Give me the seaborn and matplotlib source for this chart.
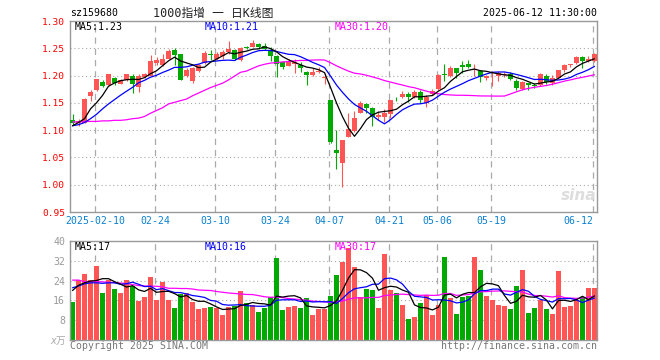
# 159680 daily K-line chart (sina style)
import numpy as np
import pandas as pd
import matplotlib
matplotlib.use("Agg")
import matplotlib.pyplot as plt
import seaborn as sns

# trading days Jan 27 .. Jun 12 2025, exchange holidays removed
holidays = ["2025-01-28", "2025-01-29", "2025-01-30", "2025-01-31",
            "2025-02-03", "2025-02-04", "2025-04-04", "2025-05-01",
            "2025-05-02", "2025-05-05", "2025-06-02"]
dates = pd.bdate_range("2025-01-27", "2025-06-12")
dates = dates[~dates.isin(pd.to_datetime(holidays))]

tick_dates = ["2025-02-10", "2025-02-24", "2025-03-10", "2025-03-24", "2025-04-07",
              "2025-04-21", "2025-05-06", "2025-05-19", "2025-06-12"]
tick_labels = ["2025-02-10", "02-24", "03-10", "03-24", "04-07",
               "04-21", "05-06", "05-19", "06-12"]

open_ = [1.119, 1.113, 1.114, 1.162, 1.173, 1.188, 1.182, 1.196, 1.185, 1.191,
         1.200, 1.179, 1.197, 1.200, 1.223, 1.219, 1.231, 1.246, 1.239, 1.200,
         1.190, 1.208, 1.223, 1.239, 1.231, 1.235, 1.243, 1.246, 1.228, 1.2525,
         1.253, 1.258, 1.254, 1.247, 1.236, 1.224, 1.218, 1.221, 1.219, 1.207,
         1.201, 1.207, 1.196, 1.155, 1.063, 1.040, 1.088, 1.099, 1.132, 1.148,
         1.140, 1.1245, 1.124, 1.130, 1.1555, 1.160, 1.167, 1.161, 1.170, 1.149,
         1.166, 1.1746, 1.203, 1.199, 1.213, 1.219, 1.221, 1.211, 1.208, 1.195,
         1.202, 1.199, 1.201, 1.203, 1.190, 1.1755, 1.186, 1.183, 1.183, 1.200,
         1.186, 1.196, 1.210, 1.219, 1.223, 1.234, 1.227, 1.227]
close = [1.114, 1.117, 1.157, 1.170, 1.193, 1.181, 1.202, 1.186, 1.191, 1.202,
         1.185, 1.200, 1.203, 1.227, 1.229, 1.231, 1.245, 1.237, 1.192, 1.211,
         1.214, 1.219, 1.241, 1.237, 1.240, 1.243, 1.249, 1.230, 1.251, 1.251,
         1.260, 1.253, 1.248, 1.235, 1.222, 1.216, 1.224, 1.224, 1.213, 1.201,
         1.207, 1.209, 1.197, 1.078, 1.058, 1.0815, 1.103, 1.123, 1.149, 1.140,
         1.1245, 1.1275, 1.1305, 1.155, 1.1545, 1.166, 1.160, 1.170, 1.155, 1.160,
         1.172, 1.201, 1.201, 1.213, 1.204, 1.216, 1.215, 1.212, 1.197, 1.199,
         1.203, 1.205, 1.202, 1.193, 1.178, 1.188, 1.183, 1.180, 1.202, 1.188,
         1.195, 1.210, 1.219, 1.222, 1.234, 1.227, 1.231, 1.240]
high = [1.130, 1.120, 1.159, 1.173, 1.194, 1.192, 1.203, 1.198, 1.194, 1.203,
        1.202, 1.203, 1.205, 1.237, 1.234, 1.239, 1.248, 1.251, 1.240, 1.213,
        1.215, 1.221, 1.245, 1.246, 1.243, 1.246, 1.263, 1.249, 1.252, 1.254,
        1.265, 1.260, 1.259, 1.252, 1.238, 1.226, 1.230, 1.231, 1.225, 1.209,
        1.213, 1.216, 1.204, 1.156, 1.101, 1.082, 1.132, 1.135, 1.153, 1.149,
        1.143, 1.135, 1.138, 1.156, 1.161, 1.172, 1.170, 1.173, 1.173, 1.164,
        1.175, 1.203, 1.221, 1.217, 1.213, 1.227, 1.228, 1.221, 1.210, 1.201,
        1.208, 1.208, 1.206, 1.206, 1.194, 1.190, 1.186, 1.186, 1.204, 1.203,
        1.201, 1.211, 1.222, 1.222, 1.235, 1.235, 1.235, 1.241]
low = [1.110, 1.108, 1.113, 1.153, 1.172, 1.179, 1.180, 1.183, 1.184, 1.190,
       1.168, 1.170, 1.196, 1.199, 1.219, 1.217, 1.230, 1.219, 1.191, 1.198,
       1.187, 1.206, 1.222, 1.228, 1.229, 1.231, 1.240, 1.228, 1.227, 1.248,
       1.252, 1.249, 1.247, 1.226, 1.198, 1.212, 1.217, 1.204, 1.207, 1.183,
       1.199, 1.204, 1.185, 1.076, 1.028, 0.996, 1.087, 1.097, 1.131, 1.131,
       1.108, 1.118, 1.115, 1.123, 1.153, 1.158, 1.152, 1.158, 1.150, 1.143,
       1.164, 1.173, 1.190, 1.197, 1.195, 1.204, 1.213, 1.199, 1.188, 1.192,
       1.180, 1.190, 1.197, 1.191, 1.174, 1.173, 1.174, 1.177, 1.180, 1.185,
       1.183, 1.194, 1.207, 1.216, 1.222, 1.214, 1.225, 1.225]
volume = [15.3, 24.2, 26.6, 24.2, 29.9, 19.0, 24.2, 20.6, 19.0, 24.2,
          21.8, 15.7, 17.3, 25.4, 16.1, 23.4, 16.1, 12.9, 18.5, 19.0,
          15.3, 12.5, 12.9, 13.3, 12.9, 10.1, 13.3, 13.7, 19.8, 14.9,
          14.1, 11.3, 12.9, 17.3, 33.1, 12.1, 13.3, 13.7, 12.9, 16.9,
          10.1, 12.5, 12.5, 17.7, 26.2, 31.5, 37.2, 29.5, 17.3, 20.6,
          20.2, 12.9, 34.7, 20.2, 19.0, 14.1, 8.4, 9.2, 14.9, 18.1,
          10.1, 14.1, 33.5, 16.9, 10.5, 17.3, 17.7, 33.5, 28.3, 17.7,
          16.1, 14.1, 13.7, 12.5, 21.8, 28.3, 10.9, 12.9, 16.1, 12.5,
          10.5, 27.9, 13.3, 13.7, 16.1, 17.3, 21.0, 21.0]

# moving-average values before the window has enough history
ma5_head = [1.108, 1.114, 1.121, 1.139]
ma10_head = [1.108, 1.110, 1.114, 1.121, 1.129, 1.139, 1.148, 1.156, 1.164]
ma30_head = [1.115, 1.115, 1.116, 1.116, 1.116, 1.117, 1.117, 1.118, 1.118, 1.119,
             1.121, 1.122, 1.125, 1.131, 1.136, 1.141, 1.148, 1.151, 1.154, 1.157,
             1.163, 1.168, 1.173, 1.178, 1.182, 1.186, 1.192, 1.199, 1.206]
vma5_head = [20.0, 22.1, 23.1, 23.8]
vma10_head = [21.1, 21.8, 22.7, 23.1, 23.1, 22.9, 23.1, 23.1, 22.5]
vma30_head = [24.2, 24.2, 23.6, 23.6, 23.6, 23.5, 23.3, 23.2, 23.0, 22.8,
              22.4, 22.0, 21.8, 21.8, 21.7, 21.5, 20.9, 20.9, 20.8, 20.8,
              20.6, 20.2, 20.1, 20.0, 19.6, 19.3, 19.0, 18.8, 18.6]

RED = "#FF5555"
GREEN = "#00AA00"
GRID = "#AAAAAA"
MONO = "DejaVu Sans Mono"
CJK = ["DejaVu Sans Mono", "Noto Sans CJK SC"]


def moving_average(values, n, head):
    ma = pd.Series(values).rolling(n).mean().to_numpy()
    ma[:n - 1] = head
    return ma


sns.set_theme(style="white")
plt.rcParams["font.family"] = MONO

o = np.array(open_)
c = np.array(close)
h = np.array(high)
l = np.array(low)
v = np.array(volume)
idx = np.arange(len(dates))
up = c >= o
colors = np.where(up, RED, GREEN)

ticks = np.array([dates.get_loc(pd.Timestamp(d)) for d in tick_dates]) - 0.25

fig = plt.figure(figsize=(6.6, 3.6), dpi=100)
W, H = 660, 360


def box(left, top, right, bottom):
    return [left / W, 1 - bottom / H, (right - left) / W, (bottom - top) / H]


def fpos(x, y):
    return x / W, 1 - y / H


ax = fig.add_axes(box(70, 21, 597, 212))
axv = fig.add_axes(box(70, 241, 597, 340))

# ---- price panel
for y in np.arange(1.00, 1.26, 0.05):
    ax.axhline(y, color=GRID, lw=0.8, ls=(0, (1, 2.5)), zorder=0)
for t in ticks:
    ax.axvline(t, color=GRID, lw=0.9, ls=(0, (5, 4)), zorder=0)

ax.vlines(idx, l, h, colors=colors, lw=0.8, zorder=2)
body = np.maximum(np.abs(c - o), 0.0015)
ax.bar(idx, body, bottom=np.minimum(o, c), width=0.83, color=colors, linewidth=0, zorder=3)

sns.lineplot(x=idx, y=moving_average(c, 30, ma30_head), color="#FF00FF", lw=0.9, ax=ax, zorder=4)
sns.lineplot(x=idx, y=moving_average(c, 10, ma10_head), color="#0000FF", lw=0.9, ax=ax, zorder=5)
sns.lineplot(x=idx, y=moving_average(c, 5, ma5_head), color="black", lw=0.9, ax=ax, zorder=6)

ax.set_xlim(-0.42, 87.42)
ax.set_ylim(0.95, 1.30)
ax.set_yticks(np.arange(0.95, 1.301, 0.05))
ax.set_yticklabels([f"{t:.2f}" for t in np.arange(0.95, 1.301, 0.05)], color="#FF0000", fontsize=6.8)
ax.set_xticks(ticks)
ax.set_xticklabels(tick_labels, color="#0A80D0", fontsize=7.1)
ax.get_xticklabels()[-1].set_horizontalalignment("right")
ax.tick_params(axis="both", length=0)
ax.tick_params(axis="y", pad=3.5)
ax.tick_params(axis="x", pad=3)
ax.set_xlabel("")
ax.set_ylabel("")

# ---- volume panel
for y in [8, 16, 24, 32]:
    axv.axhline(y, color=GRID, lw=0.8, ls=(0, (1, 2.5)), zorder=0)
for t in ticks:
    axv.axvline(t, color=GRID, lw=0.9, ls=(0, (5, 4)), zorder=0)

vol_df = pd.DataFrame({"i": idx, "vol": v, "dir": np.where(up, "up", "down")})
sns.barplot(data=vol_df, x="i", y="vol", hue="dir", palette={"up": RED, "down": GREEN},
            native_scale=True, width=0.83, dodge=False, saturation=1, legend=False,
            errorbar=None, linewidth=0, ax=axv, zorder=2)

sns.lineplot(x=idx, y=moving_average(v, 30, vma30_head), color="#FF00FF", lw=0.9, ax=axv, zorder=4)
sns.lineplot(x=idx, y=moving_average(v, 10, vma10_head), color="#0000FF", lw=0.9, ax=axv, zorder=5)
sns.lineplot(x=idx, y=moving_average(v, 5, vma5_head), color="black", lw=0.9, ax=axv, zorder=6)

axv.set_xlim(-0.42, 87.42)
axv.set_ylim(0, 40)
axv.set_xticks([])
axv.set_yticks([8, 16, 24, 32, 40])
axv.set_yticklabels(["8", "16", "24", "32", "40"], color="#999999", fontsize=7.1)
axv.tick_params(axis="y", length=0, pad=3.5)
axv.set_xlabel("")
axv.set_ylabel("")

for a in (ax, axv):
    for s in a.spines.values():
        s.set_color("#999999")
        s.set_linewidth(1)

# ---- texts
fig.text(*fpos(70, 13), "sz159680", fontsize=7.1, va="center", ha="left", color="black")
fig.text(*fpos(213, 13), "1000指增 一 日K线图", fontsize=8.5, va="center", ha="center",
         family=CJK, color="#222222")
fig.text(*fpos(597, 13), "2025-06-12 11:30:00", fontsize=7.1, va="center", ha="right", color="black")

fig.text(*fpos(75, 27), "MA5:1.23", fontsize=7.1, va="center", color="black")
fig.text(*fpos(205, 27), "MA10:1.21", fontsize=7.1, va="center", color="#0000FF")
fig.text(*fpos(335, 27), "MA30:1.20", fontsize=7.1, va="center", color="#FF00FF")

fig.text(*fpos(75, 247), "MA5:17", fontsize=7.1, va="center", color="black")
fig.text(*fpos(205, 247), "MA10:16", fontsize=7.1, va="center", color="#0000FF")
fig.text(*fpos(335, 247), "MA30:17", fontsize=7.1, va="center", color="#FF00FF")

fig.text(*fpos(66, 341), "x万", fontsize=7, va="center", ha="right", family=CJK,
         color="#AAAAAA", style="italic")
fig.text(*fpos(596, 196), "sina", fontsize=11, va="center", ha="right", color="#DDDDDD",
         style="italic", weight="bold", family="DejaVu Sans")

fig.text(*fpos(70, 346), "Copyright 2025 SINA.COM", fontsize=7.1, va="center", ha="left", color="#777777")
fig.text(*fpos(597, 346), "http://finance.sina.com.cn", fontsize=7.1, va="center", ha="right", color="#777777")

fig.savefig("out.png", dpi=100)
